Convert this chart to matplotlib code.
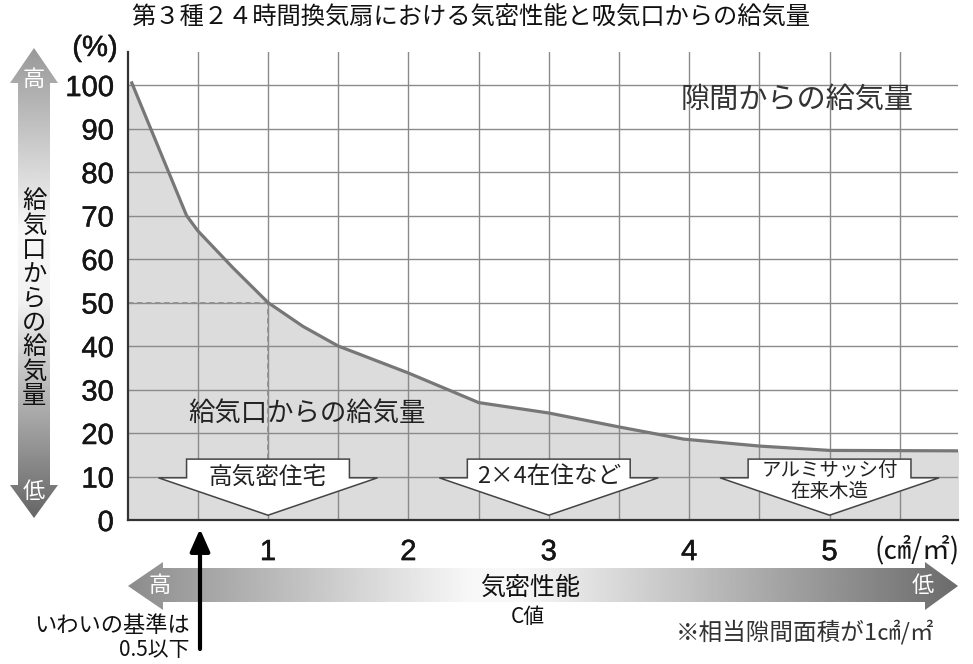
import matplotlib.pyplot as plt
import matplotlib.patheffects as pe
import numpy as np
from matplotlib.patches import Polygon

# C value (cm2/m2) and share of air supplied through the vents (%)
c_value = [0.03, 0.42, 0.5, 0.75, 1.0, 1.25, 1.5, 2.0, 2.5, 3.0, 3.5, 3.96, 4.5, 5.0, 5.92]
supply = [100.5, 70, 66.5, 58, 50, 44.5, 40, 33.8, 27, 24.6, 21.4, 18.6, 17, 16, 15.9]

house_pos = [1, 3, 5]
house_labels = ["高気密住宅", "2×4在住など", "アルミサッシ付\n在来木造"]
house_sizes = [17, 17, 14]

x_ticks = [1, 2, 3, 4, 5]
y_ticks = list(range(0, 101, 10))

JP = ['Noto Sans CJK JP', 'DejaVu Sans']
NUM = ['Liberation Sans', 'Noto Sans CJK JP']
thick = [pe.withStroke(linewidth=0.35, foreground='#151515')]

W, H = 973, 664
fig = plt.figure(figsize=(W / 100, H / 100), dpi=100)
fig.patch.set_facecolor('white')

# main chart, placed in pixel terms
left, right, top, bottom = 127.6, 958, 52, 520
ax = fig.add_axes([left / W, 1 - bottom / H, (right - left) / W, (bottom - top) / H])
ax.set_xlim(0, 5.915)
ax.set_ylim(0, 107.6)

ax.fill_between(np.r_[0, c_value], np.r_[supply[0], supply], 0, color='#dcdcdc', lw=0, zorder=0.3)
ax.plot(c_value, supply, color='#777777', lw=2.3, zorder=2)

# dashed guide at C=1 -> 50%
ax.plot([0, 1], [50, 50], ls=(0, (3, 2)), color='#8f8f8f', lw=1.3, zorder=1.8)
ax.plot([1, 1], [14, 50], ls=(0, (3, 2)), color='#8f8f8f', lw=1.3, zorder=1.8)

ax.set_xticks(x_ticks)
ax.set_xticks(np.arange(0.5, 6, 0.5), minor=True)
ax.set_yticks(y_ticks)
ax.grid(axis='x', which='both', color='#8a8a8a', lw=1.0, zorder=1)
ax.grid(axis='y', which='major', color='#8a8a8a', lw=1.0, zorder=1)
ax.set_axisbelow('line')
ax.tick_params(which='both', length=0, labelsize=21, labelcolor='#151515',
               labelfontfamily='Liberation Sans')
ax.tick_params(axis='y', pad=10)
ax.tick_params(axis='x', pad=13)
for s in ['top', 'right']:
    ax.spines[s].set_visible(False)
for s in ['left', 'bottom']:
    ax.spines[s].set_color('#333333')
    ax.spines[s].set_linewidth(1.6)

# block arrows for the house types
for cx, lab, fs in zip(house_pos, house_labels, house_sizes):
    bw, ww = 0.58, 0.78
    pts = [(cx - bw, 14), (cx + bw, 14), (cx + bw, 9.7), (cx + ww, 9.7),
           (cx, 1.1), (cx - ww, 9.7), (cx - bw, 9.7)]
    ax.add_patch(Polygon(pts, closed=True, facecolor='white', edgecolor='#444444', lw=1.1, zorder=3))
    ty = 9.9 if '\n' not in lab else 9.0
    ax.text(cx, ty, lab, ha='center', va='center', fontsize=fs, family=JP,
            color='#222222', linespacing=1.0, zorder=4)

ax.text(1.28, 24.6, "給気口からの給気量", ha='center', va='center', fontsize=19, family=JP, color='#222222', zorder=4)
ax.text(4.77, 96.5, "隙間からの給気量", ha='center', va='center', fontsize=21, family=JP, color='#333333', zorder=4)

# overlay in pixel coords for the decorations around the chart
ov = fig.add_axes([0, 0, 1, 1], zorder=5)
ov.set_xlim(0, W)
ov.set_ylim(H, 0)
ov.axis('off')
ov.patch.set_alpha(0)

ov.text(471, 18, "第３種２４時間換気扇における気密性能と吸気口からの給気量", ha='center', va='center',
        fontsize=17.5, family=JP, color='#111111')
ov.text(95, 48, "(%)", ha='center', va='center', fontsize=21, family=NUM, color='#151515', path_effects=thick)
ov.text(917, 550, "(㎠/㎡)", ha='center', va='center', fontsize=20, family=JP, color='#151515')

# vertical gradient arrow
vpoly = Polygon([(34, 48), (58, 83), (50, 83), (50, 485), (58, 485), (34, 518),
                 (10, 485), (18, 485), (18, 83), (10, 83)], closed=True, facecolor='none', edgecolor='none')
ov.add_patch(vpoly)
yy = np.linspace(48, 518, 300)
vgrad = np.interp(yy, [48, 230, 300, 518], [0.6, 0.97, 0.95, 0.4])[:, None]
im = ov.imshow(vgrad, cmap='gray', vmin=0, vmax=1, extent=(10, 58, 518, 48), origin='upper',
               aspect='auto', interpolation='bilinear')
im.set_clip_path(vpoly)
ov.text(34, 80, "高", ha='center', va='center', fontsize=16, family=JP, color='white')
ov.text(34, 492, "低", ha='center', va='center', fontsize=16, family=JP, color='white')
for i, ch in enumerate("給気口からの給気量"):
    ov.text(34, 201 + i * 24.4, ch, ha='center', va='center', fontsize=17.5, family=JP, color='#111111')

# horizontal gradient arrow
hpoly = Polygon([(128, 586), (163, 562), (163, 568), (925, 568), (925, 562), (958, 586),
                 (925, 610), (925, 602), (163, 602), (163, 610)], closed=True, facecolor='none', edgecolor='none')
ov.add_patch(hpoly)
xx = np.linspace(128, 958, 600)
hgrad = np.interp(xx, [128, 470, 520, 958], [0.55, 0.97, 0.97, 0.42])[None, :]
im2 = ov.imshow(hgrad, cmap='gray', vmin=0, vmax=1, extent=(128, 958, 610, 562), origin='upper',
                aspect='auto', interpolation='bilinear')
im2.set_clip_path(hpoly)
ov.text(160, 585, "高", ha='center', va='center', fontsize=16, family=JP, color='white')
ov.text(923, 585, "低", ha='center', va='center', fontsize=16, family=JP, color='white')
ov.text(530, 588, "気密性能", ha='center', va='center', fontsize=18, family=JP, color='#111111')
ov.text(528, 617, "C値", ha='center', va='center', fontsize=15, family=JP, color='#111111')
ov.text(805, 632, "※相当隙間面積が1㎠/㎡", ha='center', va='center', fontsize=17, family=JP, color='#333333')

# criterion arrow at C = 0.5
ov.annotate('', xy=(200, 529), xytext=(200, 649),
            arrowprops=dict(arrowstyle='-|>,head_length=0.9,head_width=0.4', color='black',
                            lw=3, mutation_scale=15, shrinkA=0, shrinkB=0))
ov.text(190, 625, "いわいの基準は", ha='right', va='center', fontsize=16, family=JP, color='#111111')
ov.text(190, 650, "0.5以下", ha='right', va='center', fontsize=15, family=JP, color='#111111')

ov.set_xlim(0, W)
ov.set_ylim(H, 0)

fig.canvas.draw()
for lab in ax.get_xticklabels() + ax.get_yticklabels():
    lab.set_path_effects(thick)

fig.savefig('out.png', dpi=100)
